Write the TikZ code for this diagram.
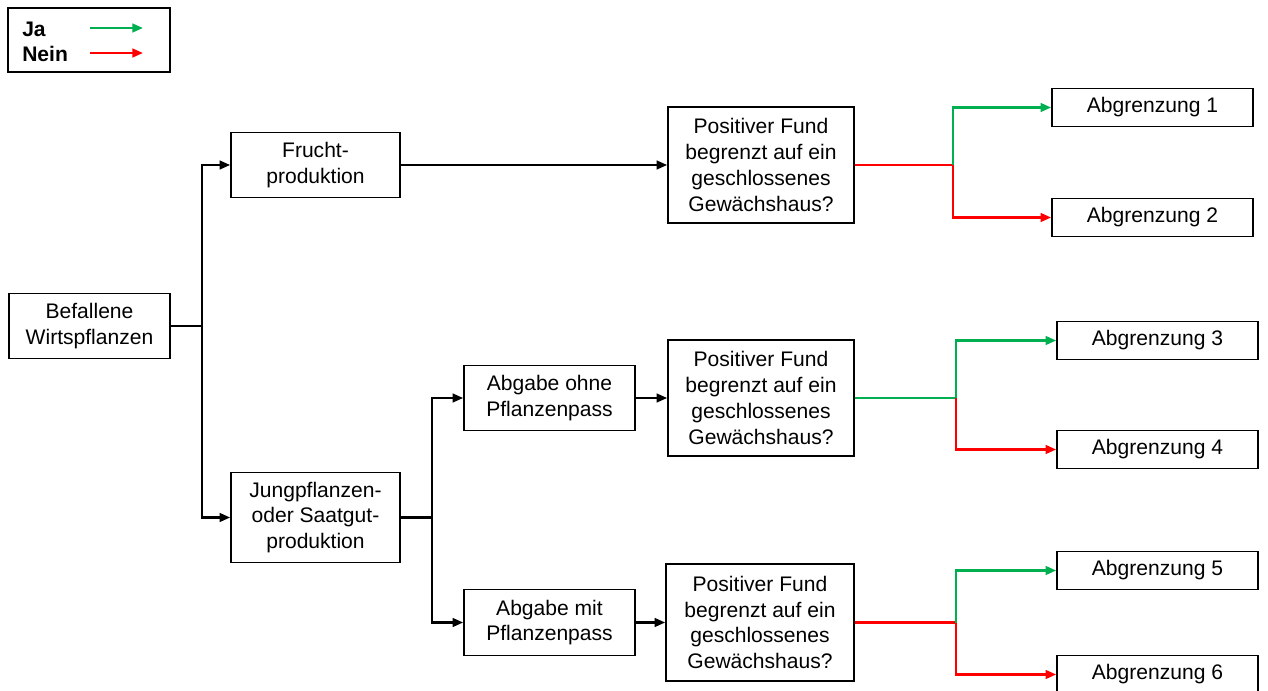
\documentclass[tikz,border=0pt]{standalone}
\usepackage{fontspec}
\setmainfont{Liberation Sans}
\usetikzlibrary{arrows.meta}
\definecolor{jagreen}{RGB}{0,176,80}
\definecolor{neinred}{RGB}{255,0,0}
\begin{document}
\begin{tikzpicture}[x=0.75pt,y=0.75pt,yscale=-1,xscale=1,
    box/.style={draw,line width=1.2pt,inner sep=0pt,align=center,font=\fontsize{15.8}{19.3}\selectfont},
    conn/.style={line width=1.8pt,-{Triangle[length=8pt,width=6.5pt]}},
    ja/.style={conn,jagreen},
    nein/.style={conn,neinred}]
    \useasboundingbox (0,0) rectangle (1268,691);
    % legend
    \node [draw,line width=1.2pt,minimum width=121.5pt,minimum height=48pt] (legend) at (89,40) {};
    \node [anchor=west,inner sep=0pt,font=\bfseries\fontsize{15.8}{19.3}\selectfont] (jatext) at (22,29) {Ja};
    \node [anchor=west,inner sep=0pt,font=\bfseries\fontsize{15.8}{19.3}\selectfont] (neintext) at (22,54) {Nein};
    \coordinate (jaA) at (90,28); \coordinate (jaB) at (143,28);
    \coordinate (neinA) at (90,53); \coordinate (neinB) at (143,53);
    \draw [ja] (jaA) -- (jaB);
    \draw [nein] (neinA) -- (neinB);
    % boxes
    \node [box,minimum width=120.75pt,minimum height=48.75pt] (befall) at (89.5,326) {Befallene\\Wirtspflanzen};
    \node [box,minimum width=126.75pt,minimum height=48.75pt] (frucht) at (315.5,165) {Frucht-\\produktion};
    \node [box,minimum width=126.75pt,minimum height=67.5pt] (jung) at (315.5,517.5) {Jungpflanzen-\\oder Saatgut-\\produktion};
    \node [box,minimum width=128.25pt,minimum height=48.75pt] (ohne) at (549.5,398) {Abgabe ohne\\Pflanzenpass};
    \node [box,minimum width=128.25pt,minimum height=49.5pt] (mit) at (549.5,622.5) {Abgabe mit\\Pflanzenpass};
    \node [box,minimum width=139.5pt,minimum height=87pt] (fund1) at (761,165) {Positiver Fund\\begrenzt auf ein\\geschlossenes\\Gewächshaus?};
    \node [box,minimum width=139.5pt,minimum height=87pt] (fund2) at (761,398) {Positiver Fund\\begrenzt auf ein\\geschlossenes\\Gewächshaus?};
    \node [box,minimum width=141pt,minimum height=87.75pt] (fund3) at (760,622.5) {Positiver Fund\\begrenzt auf ein\\geschlossenes\\Gewächshaus?};
    \node [box,minimum width=150.75pt,minimum height=28.5pt] (abgr1) at (1152.5,107.5) {Abgrenzung 1};
    \node [box,minimum width=150.75pt,minimum height=28.5pt] (abgr2) at (1152.5,217.5) {Abgrenzung 2};
    \node [box,minimum width=150.75pt,minimum height=28.5pt] (abgr3) at (1157.5,340.5) {Abgrenzung 3};
    \node [box,minimum width=150.75pt,minimum height=28.5pt] (abgr4) at (1157.5,449.5) {Abgrenzung 4};
    \node [box,minimum width=150.75pt,minimum height=28.5pt] (abgr5) at (1157.5,570.5) {Abgrenzung 5};
    \node [box,minimum width=150.75pt,minimum height=28.5pt] (abgr6) at (1157.5,674.5) {Abgrenzung 6};
    % branch points
    \coordinate (split1) at (202,326);
    \coordinate (split2) at (432,517.5);
    \coordinate (split3) at (953,165);
    \coordinate (split4) at (956,398);
    \coordinate (split5) at (956,622.5);
    % connectors
    \draw [line width=1.8pt] (befall.east) -- (split1);
    \draw [conn] (split1) |- (frucht.west);
    \draw [conn] (split1) |- (jung.west);
    \draw [conn] (frucht.east) -- (fund1.west);
    \draw [line width=1.8pt] (jung.east) -- (split2);
    \draw [conn] (split2) |- (ohne.west);
    \draw [conn] (split2) |- (mit.west);
    \draw [conn] (ohne.east) -- (fund2.west);
    \draw [conn] (mit.east) -- (fund3.west);
    \draw [line width=1.8pt,neinred] (fund1.east) -- (split3);
    \draw [ja] (split3) |- (abgr1.west);
    \draw [nein] (split3) |- (abgr2.west);
    \draw [line width=1.8pt,jagreen] (fund2.east) -- (split4);
    \draw [ja] (split4) |- (abgr3.west);
    \draw [nein] (split4) |- (abgr4.west);
    \draw [line width=1.8pt,neinred] (fund3.east) -- (split5);
    \draw [ja] (split5) |- (abgr5.west);
    \draw [nein] (split5) |- (abgr6.west);
\end{tikzpicture}
\end{document}
